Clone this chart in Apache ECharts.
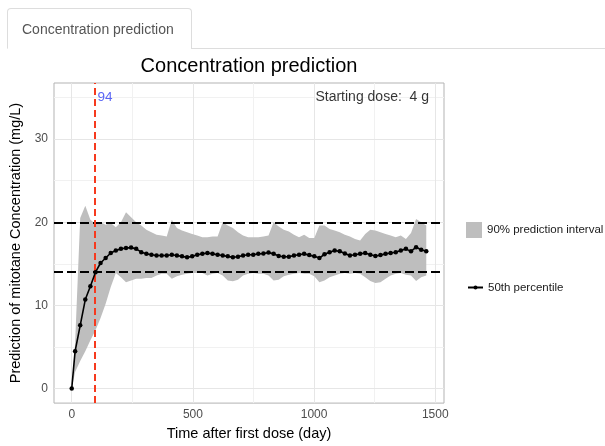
<!DOCTYPE html>
<html>
<head>
<meta charset="utf-8">
<script src="https://cdn.jsdelivr.net/npm/echarts@6/dist/echarts.min.js"></script>
<style>
  html, body { margin: 0; padding: 0; background: #fff; }
  #wrap { position: relative; width: 605px; height: 446px; overflow: hidden; font-family: "Liberation Sans", Arial, sans-serif; }
  .tab { position: absolute; left: 7px; top: 8px; width: 185px; height: 41px; box-sizing: border-box;
         border: 1px solid #ddd; border-bottom-color: transparent; border-radius: 4px 4px 0 0;
         background: #fff; color: #555; font-size: 14px; line-height: 40px; padding-left: 14px; z-index: 2; }
  .tabline { position: absolute; left: 191px; right: 0; top: 48px; border-top: 1px solid #ddd; z-index: 2; }
  #main { position: absolute; left: 0; top: 0; width: 605px; height: 446px; }
</style>
</head>
<body>
<div id="wrap">
  <div class="tab">Concentration prediction</div>
  <div class="tabline"></div>
  <div id="main"></div>
</div>
<script>
  // days after first dose
  var days = [0, 14, 35, 56, 77, 98, 119, 140, 161, 182,
    203, 224, 245, 266, 287, 308, 329, 350, 371, 392,
    413, 434, 455, 476, 497, 518, 539, 560, 581, 602,
    623, 644, 665, 686, 707, 728, 749, 770, 791, 812,
    833, 854, 875, 896, 917, 938, 959, 980, 1001, 1022,
    1043, 1064, 1085, 1106, 1127, 1148, 1169, 1190, 1211, 1232,
    1253, 1274, 1295, 1316, 1337, 1358, 1379, 1400, 1421, 1442,
    1463];

  // 50th percentile
  var median = [0, 4.5, 7.6, 10.7, 12.3, 14.0, 15.1, 15.7, 16.3, 16.6,
    16.8, 16.9, 16.95, 16.8, 16.4, 16.2, 16.1, 16.0, 16.0, 16.0,
    16.1, 16.0, 15.9, 15.8, 15.9, 16.1, 16.2, 16.3, 16.2, 16.1,
    16.0, 15.9, 15.8, 15.85, 16.0, 16.1, 16.1, 16.2, 16.25, 16.35,
    16.2, 15.95, 15.85, 15.85, 16.0, 16.1, 16.2, 16.05, 15.9, 15.7,
    16.15, 16.4, 16.6, 16.5, 16.25, 16.0, 16.1, 16.2, 16.3, 16.1,
    15.95, 16.05, 16.2, 16.3, 16.4, 16.6, 16.8, 16.5, 17.0, 16.7,
    16.5];

  // 90% prediction interval
  var lower = [0, 2.0, 3.3, 4.5, 5.8, 7.0, 8.5, 10.2, 12.2, 13.9,
    13.4, 12.8, 13.0, 13.2, 13.2, 13.3, 13.3, 13.6, 13.8, 13.8,
    13.2, 13.5, 13.7, 13.8, 13.9, 13.9, 13.9, 13.6, 13.8, 13.9,
    13.6, 13.0, 12.9, 13.1, 13.6, 13.8, 13.9, 13.8, 13.8, 13.6,
    13.0, 13.1, 13.5, 13.7, 13.8, 13.9, 13.8, 13.8, 13.5, 12.8,
    13.0, 13.4, 13.6, 13.8, 13.9, 13.8, 13.9, 13.8, 13.4, 12.95,
    12.7, 12.8, 13.2, 13.6, 13.8, 13.9, 13.7, 13.6, 12.95, 13.4,
    13.6];
  var upper = [0, 5.5, 20.5, 22.0, 20.3, 19.8, 20.0, 19.7, 19.9, 19.4,
    20.0, 21.2, 20.6, 20.0, 19.6, 19.1, 18.8, 18.5, 18.4, 18.3,
    20.3, 19.3, 19.0, 18.8, 18.6, 18.4, 18.2, 18.2, 18.3, 18.3,
    20.0, 19.6, 19.3, 18.8, 18.4, 18.2, 18.2, 18.2, 18.3, 18.4,
    20.0, 19.5, 19.1, 18.9, 18.5, 18.2, 18.5, 18.1, 18.1, 19.6,
    19.6, 19.2, 19.0, 18.8, 18.5, 18.3, 18.0, 17.8, 18.6, 19.1,
    19.0, 18.8, 18.6, 18.4, 18.2, 18.4, 18.0, 18.7, 20.4, 20.0,
    19.6];

  var xTicks = [0, 500, 1000, 1500];
  var xMinor = [250, 750, 1250];
  var yTicks = [0, 10, 20, 30];
  var yMinor = [5, 15, 25, 35];

  var cutoffDay = 94;
  var targetLines = [14, 20];
  var noteY = 35;
  var doseNoteDay = 1240;
  var doseNote = 'Starting dose:  4 g';

  var font = '"Liberation Sans", Arial, sans-serif';
  var bandColor = '#bebebe';

  var medianData = days.map(function (d, i) { return [d, median[i]]; });

  var gridLines = [];
  xMinor.forEach(function (v) { gridLines.push({ xAxis: v, lineStyle: { color: '#f1f1f1' } }); });
  yMinor.forEach(function (v) { gridLines.push({ yAxis: v, lineStyle: { color: '#f1f1f1' } }); });
  xTicks.forEach(function (v) { gridLines.push({ xAxis: v }); });
  yTicks.forEach(function (v) { gridLines.push({ yAxis: v }); });

  // band polygon: upper edge left->right, then lower edge back
  function renderBand(params, api) {
    if (params.dataIndex !== 0) return;
    var pts = [];
    for (var i = 0; i < days.length; i++) pts.push(api.coord([days[i], upper[i]]));
    for (var j = days.length - 1; j >= 0; j--) pts.push(api.coord([days[j], lower[j]]));
    return { type: 'polygon', shape: { points: pts }, style: { fill: bandColor } };
  }

  var chart = echarts.init(document.getElementById('main'));
  var option = {
    animation: false,
    textStyle: { fontFamily: font },
    grid: { left: 54, top: 83, width: 390, height: 322, show: true, borderColor: '#b3b3b3', borderWidth: 1, backgroundColor: '#fff' },
    graphic: [{
      type: 'text', x: 249, y: 66,
      style: { text: 'Concentration prediction', fontSize: 20, fontFamily: font, fill: '#000', textAlign: 'center', textVerticalAlign: 'middle' }
    }],
    legend: [{
      orient: 'vertical', left: 461, top: 217, itemWidth: 16, itemHeight: 16,
      textStyle: { fontSize: 11.5, color: '#1a1a1a', fontFamily: font },
      data: [{ name: '90% prediction interval', icon: 'rect', itemStyle: { color: bandColor } }],
      selectedMode: false
    }, {
      orient: 'vertical', left: 462, top: 276.5, itemWidth: 15, itemHeight: 5,
      textStyle: { fontSize: 11.5, color: '#1a1a1a', fontFamily: font },
      data: ['50th percentile'],
      selectedMode: false
    }],
    xAxis: {
      type: 'value', min: -73.15, max: 1536.15,
      axisLine: { show: false },
      axisTick: { show: true, customValues: xTicks, length: 4, lineStyle: { color: '#b3b3b3' } },
      axisLabel: { customValues: xTicks, color: '#4d4d4d', fontSize: 12, margin: 6, formatter: function (v) { return String(v); } },
      splitLine: { show: false },
      name: 'Time after first dose (day)', nameLocation: 'middle', nameGap: 20,
      nameTextStyle: { fontSize: 14.5, color: '#000', fontFamily: font, verticalAlign: 'top' }
    },
    yAxis: {
      type: 'value', min: -1.75, max: 36.75,
      axisLine: { show: false },
      axisTick: { show: true, customValues: yTicks, length: 4, lineStyle: { color: '#b3b3b3' } },
      axisLabel: { customValues: yTicks, color: '#4d4d4d', fontSize: 12, margin: 6 },
      splitLine: { show: false },
      name: 'Prediction of mitotane Concentration (mg/L)', nameLocation: 'middle', nameGap: 28,
      nameTextStyle: { fontSize: 14.5, color: '#000', fontFamily: font }
    },
    series: [{
      name: 'grid', type: 'line', data: [], z: 1, silent: true,
      markLine: {
        silent: true, symbol: 'none', z: 1, animation: false,
        label: { show: false },
        lineStyle: { color: '#e6e6e6', width: 1, type: 'solid' },
        data: gridLines
      }
    }, {
      name: '90% prediction interval', type: 'custom', z: 2, silent: true,
      data: days.map(function (d, i) { return [d, lower[i], upper[i]]; }),
      encode: { x: 0, y: [1, 2] },
      itemStyle: { color: bandColor },
      renderItem: renderBand
    }, {
      name: 'refs', type: 'line', data: [], z: 3, silent: true,
      markLine: {
        silent: true, symbol: 'none', z: 3, animation: false,
        label: { show: false },
        data: [
          { yAxis: targetLines[0], lineStyle: { color: '#000', width: 2, type: [9, 4] } },
          { yAxis: targetLines[1], lineStyle: { color: '#000', width: 2, type: [9, 4] } },
          { xAxis: cutoffDay, lineStyle: { color: '#f63a1e', width: 2, type: [7, 4] } }
        ]
      }
    }, {
      name: '50th percentile', type: 'line', data: medianData, z: 4,
      symbol: 'circle', symbolSize: 4.5, showSymbol: true, showAllSymbol: true,
      color: '#000', itemStyle: { color: '#000' },
      lineStyle: { color: '#000', width: 1.6 }
    }, {
      name: 'notes', type: 'scatter', z: 5, silent: true, symbolSize: 0,
      data: [
        { value: [cutoffDay, noteY], label: { show: true, position: 'right', distance: 3, formatter: String(cutoffDay), color: '#2f3ff2', fontSize: 13.5, fontFamily: font } },
        { value: [doseNoteDay, noteY], label: { show: true, position: 'inside', formatter: doseNote, color: '#000', fontSize: 14, fontFamily: font } }
      ]
    }]
  };
  chart.setOption(option);
</script>
</body>
</html>
